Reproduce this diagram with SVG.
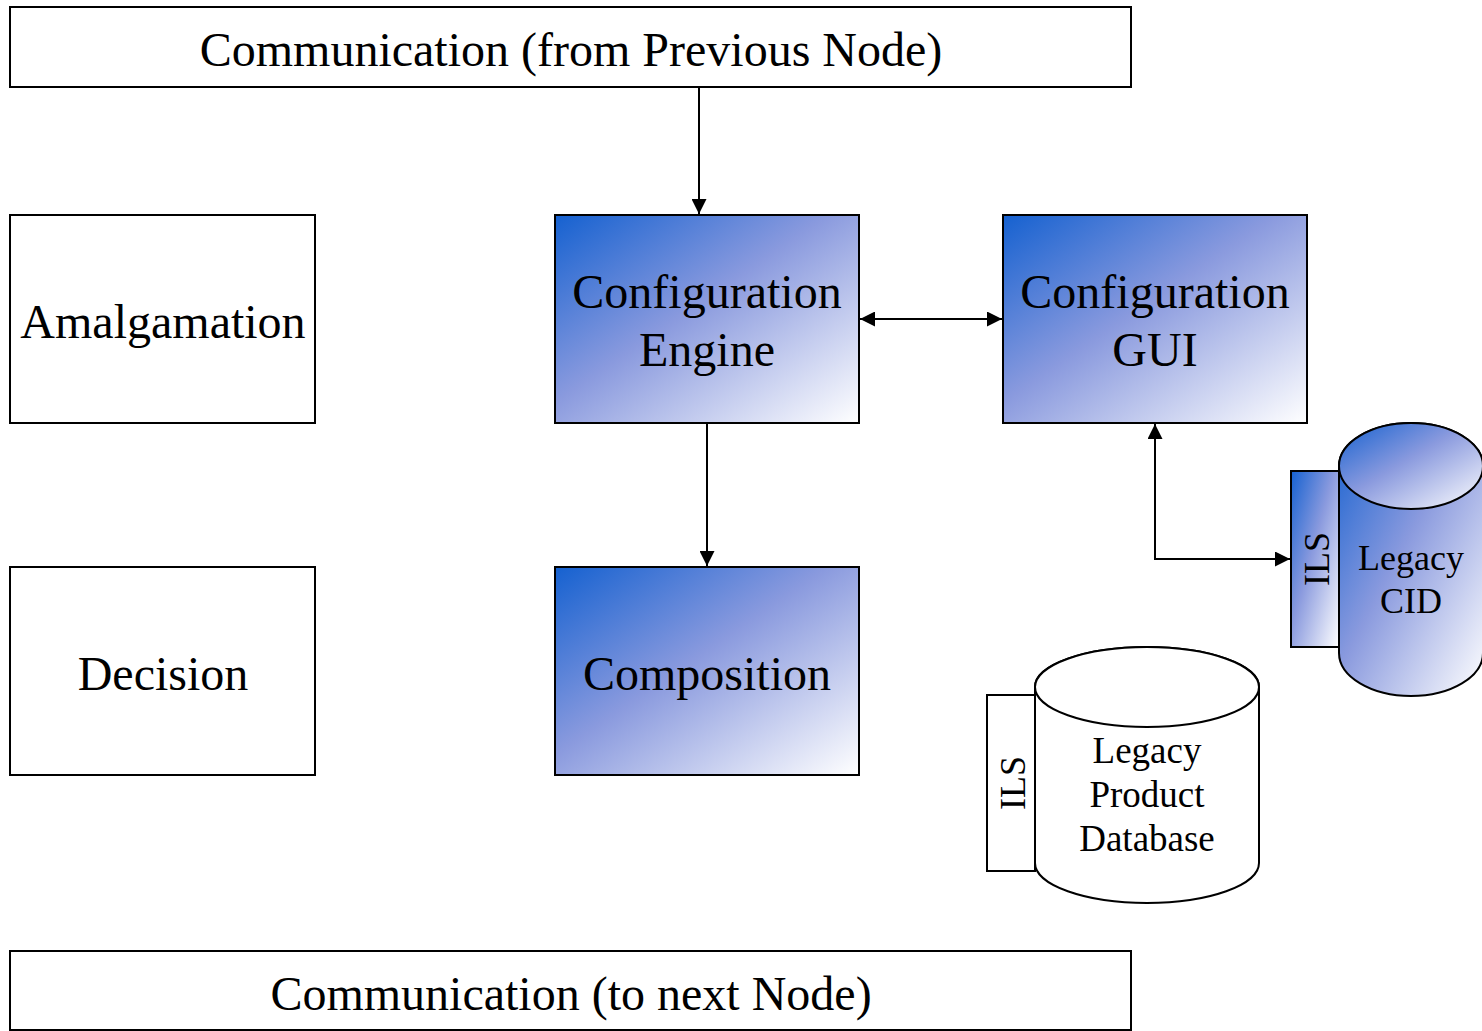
<svg xmlns="http://www.w3.org/2000/svg" width="1482" height="1031" viewBox="0 0 1482 1031">
  <defs>
    <linearGradient id="blueFade" x1="0" y1="0" x2="1" y2="1">
      <stop offset="0" stop-color="#1561d0"/>
      <stop offset="0.45" stop-color="#8a9ade"/>
      <stop offset="1" stop-color="#ffffff"/>
    </linearGradient>
    <marker id="arrow" viewBox="0 0 10 10" refX="10" refY="5" markerWidth="15" markerHeight="15" markerUnits="userSpaceOnUse" orient="auto-start-reverse">
      <path d="M0,0 L10,5 L0,10 Z" fill="#000"/>
    </marker>
  </defs>
  <style>
    .box { stroke: #000; stroke-width: 2; fill: #fff; }
    .grad { fill: url(#blueFade); }
    .lbl { font-family: "Liberation Serif", "Times New Roman", serif; fill: #000; text-anchor: middle; }
    .big { font-size: 48px; }
    .sm { font-size: 36px; }
    .db { font-size: 37px; }
    .conn { stroke: #000; stroke-width: 2; fill: none; }
  </style>

  <rect width="1482" height="1031" fill="#fff"/>

  <g id="comm-in">
    <rect class="box" x="10" y="7" width="1121" height="80"/>
    <text class="lbl big" x="571" y="66">Communication (from Previous Node)</text>
  </g>

  <g id="amalgamation">
    <rect class="box" x="10" y="215" width="305" height="208"/>
    <text class="lbl big" x="163" y="338">Amalgamation</text>
  </g>

  <g id="decision">
    <rect class="box" x="10" y="567" width="305" height="208"/>
    <text class="lbl big" x="163" y="690">Decision</text>
  </g>

  <g id="config-engine">
    <rect class="box grad" x="555" y="215" width="304" height="208"/>
    <text class="lbl big" x="707" y="308">Configuration</text>
    <text class="lbl big" x="707" y="366">Engine</text>
  </g>

  <g id="config-gui">
    <rect class="box grad" x="1003" y="215" width="304" height="208"/>
    <text class="lbl big" x="1155" y="308">Configuration</text>
    <text class="lbl big" x="1155" y="366">GUI</text>
  </g>

  <g id="composition">
    <rect class="box grad" x="555" y="567" width="304" height="208"/>
    <text class="lbl big" x="707" y="690">Composition</text>
  </g>

  <g id="legacy-cid">
    <rect class="box grad" x="1291" y="471" width="48" height="176"/>
    <text class="lbl sm" transform="translate(1329,559) rotate(-90)" x="0" y="0">ILS</text>
    <path class="box grad" d="M1339,466 L1339,653 A72,43 0 0 0 1483,653 L1483,466 A72,43 0 0 0 1339,466 Z"/>
    <ellipse class="box grad" cx="1411" cy="466" rx="72" ry="43"/>
    <text class="lbl sm" x="1411" y="570">Legacy</text>
    <text class="lbl sm" x="1411" y="613">CID</text>
  </g>

  <g id="legacy-product-db">
    <rect class="box" x="987" y="695" width="48" height="176"/>
    <text class="lbl sm" transform="translate(1025,783) rotate(-90)" x="0" y="0">ILS</text>
    <path class="box" d="M1035,687 L1035,863 A112,40 0 0 0 1259,863 L1259,687 A112,40 0 0 0 1035,687 Z"/>
    <ellipse class="box" cx="1147" cy="687" rx="112" ry="40"/>
    <text class="lbl db" x="1147" y="763">Legacy</text>
    <text class="lbl db" x="1147" y="807">Product</text>
    <text class="lbl db" x="1147" y="851">Database</text>
  </g>

  <g id="comm-out">
    <rect class="box" x="10" y="951" width="1121" height="79"/>
    <text class="lbl big" x="571" y="1010">Communication (to next Node)</text>
  </g>

  <g id="connectors">
    <line class="conn" x1="699" y1="87" x2="699" y2="214" marker-end="url(#arrow)"/>
    <line class="conn" x1="707" y1="423" x2="707" y2="566" marker-end="url(#arrow)"/>
    <line class="conn" x1="860" y1="319" x2="1002" y2="319" marker-start="url(#arrow)" marker-end="url(#arrow)"/>
    <polyline class="conn" points="1155,424 1155,559 1290,559" marker-start="url(#arrow)" marker-end="url(#arrow)"/>
  </g>
</svg>
